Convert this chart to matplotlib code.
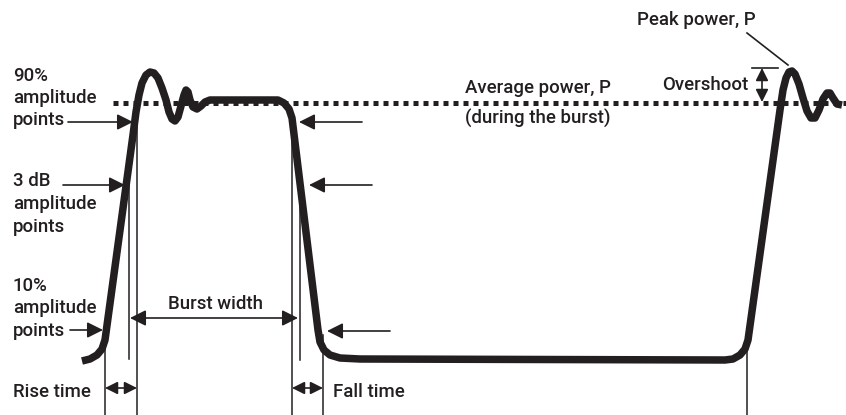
import matplotlib
matplotlib.use("Agg")
import matplotlib.pyplot as plt

# burst envelope (time, level) in drawing units, level grows downwards
burst_t = [82, 90, 97, 102, 105, 133, 136, 139, 142, 146, 150, 154, 158, 162, 166, 169,
           172, 175, 178, 181, 184, 186, 188, 190, 193, 197, 201, 205, 210, 278, 284,
           289, 292, 318, 320, 324, 330, 340, 360, 725, 733, 740, 745, 748, 780, 783,
           786, 789, 792, 795, 799, 803, 807, 811, 815, 819, 823, 827, 830, 833, 837, 842]
burst_p = [361, 359, 355, 349, 340, 135, 112, 95, 83, 75, 72, 73, 78, 88, 100, 112,
           119, 121, 117, 106, 95, 90, 92, 100, 107, 109, 106, 102, 100, 100, 103,
           109, 118, 330, 342, 350, 355, 358, 359, 360, 359, 355, 349, 340, 110, 90,
           78, 72, 71, 74, 84, 98, 111, 118, 118, 110, 99, 93, 93, 98, 104, 105]

avg_level = 103
avg_start = 113

# measurement markers: x, top, bottom
markers = [(105, 345, 415), (129, 175, 359), (137, 100, 415),
           (292, 115, 415), (300, 180, 360), (323, 335, 415), (747, 345, 415)]

# pointer arrows: start, tip
pointers = [((68, 122), (133, 122)), ((63, 185), (125, 185)), ((70, 330), (103, 330)),
            ((362, 122), (299, 122)), ((372, 185), (309, 185)), ((390, 331), (327, 331))]

# span arrows: start, end, head size
spans = [((130, 318), (298, 318), 24), ((105, 388), (137, 388), 19),
         ((292, 388), (323, 388), 19), ((762, 68), (762, 102), 19)]

labels = [
    (13, 81, "90%"), (13, 103, "amplitude"), (13, 125, "points"),
    (13, 186, "3 dB"), (13, 209, "amplitude"), (13, 232, "points"),
    (13, 291, "10%"), (13, 313, "amplitude"), (13, 336, "points"),
    (13, 397, "Rise time"), (333, 397, "Fall time"),
    (465, 93, "Average power, P"), (465, 124, "(during the burst)"),
    (662, 90, "Overshoot"), (637, 25, "Peak power, P"),
]

ink = "#231f20"
plt.rcParams["font.family"] = ["Roboto", "DejaVu Sans"]

fig = plt.figure(figsize=(8.46, 4.15), dpi=100)
ax = fig.add_axes([0, 0, 1, 1])
ax.set_xlim(0, 846)
ax.set_ylim(415, 0)
ax.axis("off")

# average power dotted line
ax.plot([avg_start, 846], [avg_level, avg_level], color=ink, lw=3.6,
        dashes=(1, 1), dash_capstyle="butt", zorder=1)

for x, y0, y1 in markers:
    ax.plot([x, x], [y0, y1], color=ink, lw=1.1, zorder=2)

ax.plot(burst_t, burst_p, color=ink, lw=5.4, solid_joinstyle="round",
        solid_capstyle="butt", zorder=3)

for start, tip in pointers:
    ax.annotate("", xy=tip, xytext=start,
                arrowprops=dict(arrowstyle="-|>", mutation_scale=24, lw=1.2,
                                color=ink, shrinkA=0, shrinkB=0))

for a, b, size in spans:
    ax.annotate("", xy=b, xytext=a,
                arrowprops=dict(arrowstyle="<|-|>", mutation_scale=size, lw=1.2,
                                color=ink, shrinkA=0, shrinkB=0))

# overshoot bar and peak power leader
ax.plot([752, 778], [68, 68], color=ink, lw=1.2)
ax.plot([747, 788], [33, 65], color=ink, lw=1.2)

for x, y, s in labels:
    ax.text(x, y, s, color=ink, fontsize=13.4, fontweight="medium",
            ha="left", va="baseline")

ax.text(216, 309, "Burst width", color=ink, fontsize=13.4, fontweight="medium",
        ha="center", va="baseline")

fig.savefig("out.png", dpi=100)
